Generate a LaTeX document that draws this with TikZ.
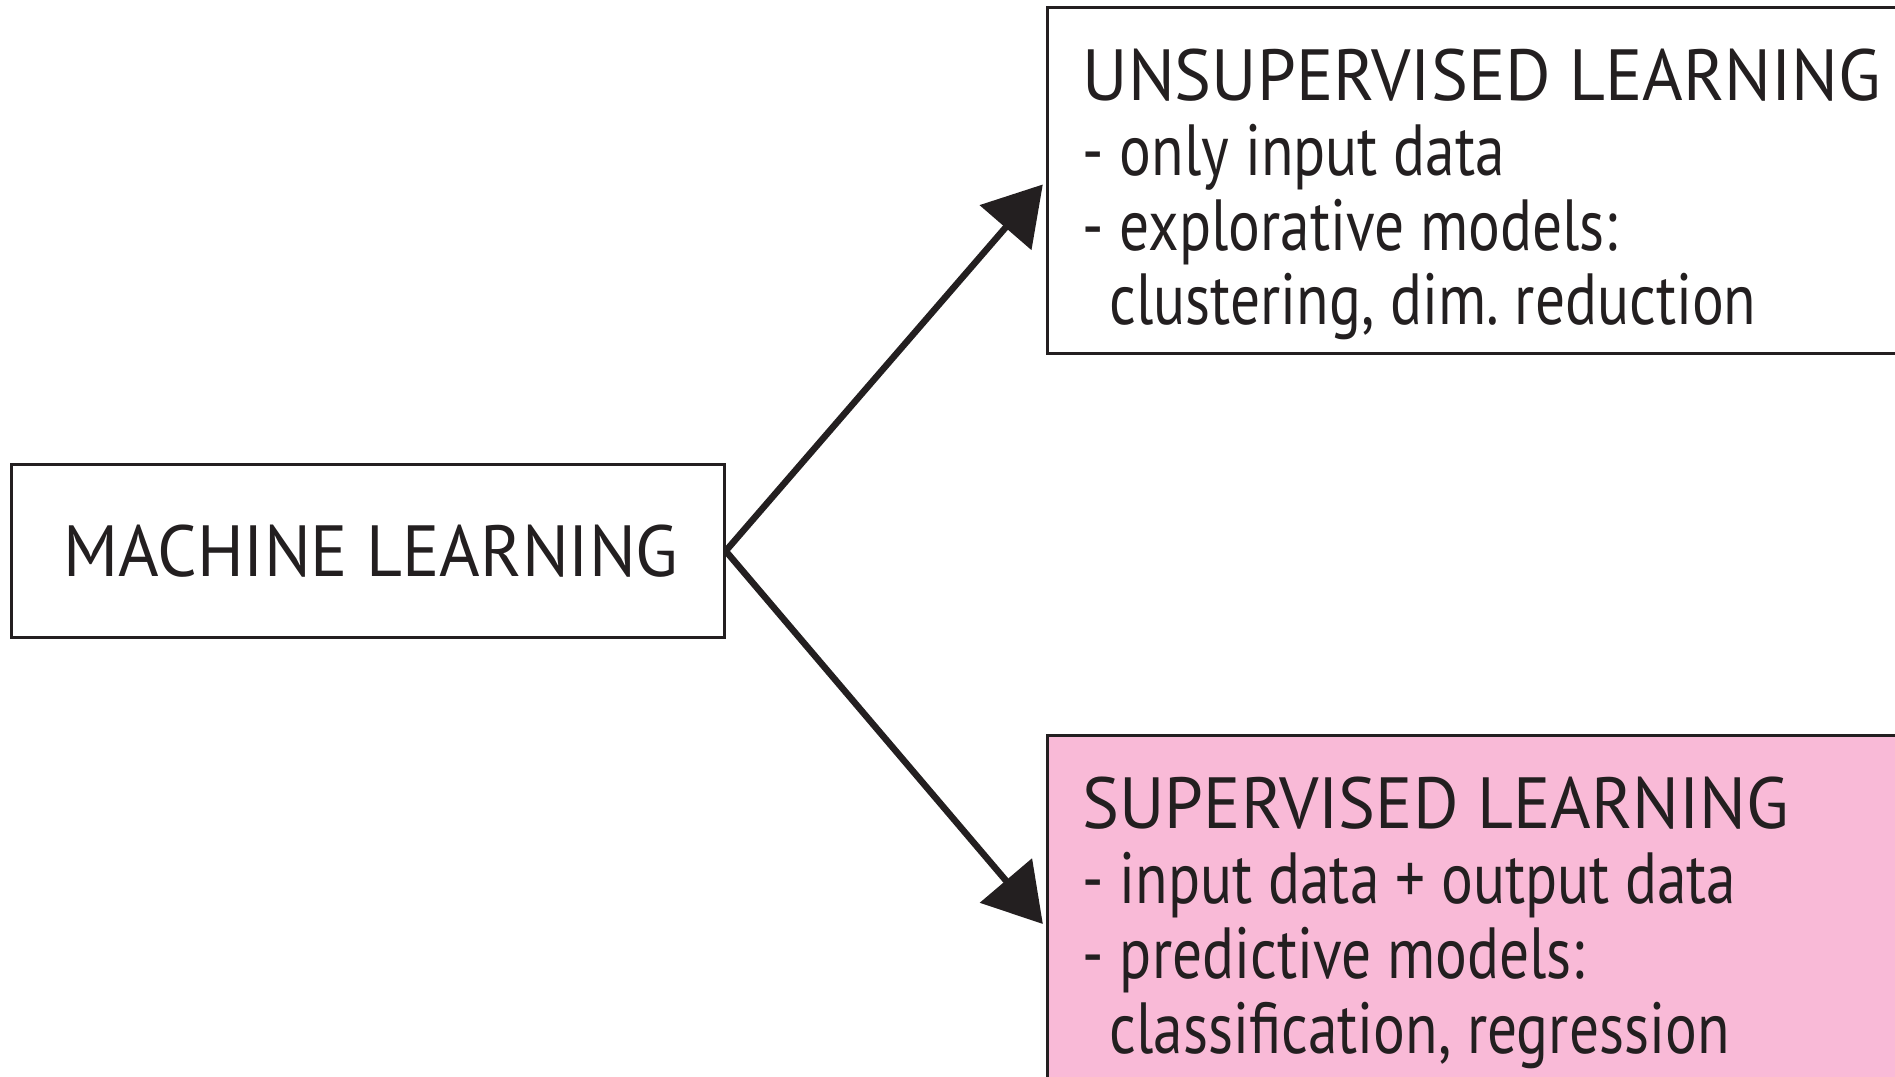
\documentclass[tikz,border=0pt]{standalone}
\usepackage{fontspec}
\setmainfont{PT Sans}
\newfontfamily\headfont[FakeStretch=0.96]{PT Sans}
\newfontfamily\bodyfont[FakeStretch=0.82]{PT Sans}
\usetikzlibrary{positioning, arrows.meta}
\frenchspacing

\definecolor{inkblack}{HTML}{231F20}
\definecolor{suppink}{HTML}{F9BAD7}

\begin{document}
\begin{tikzpicture}[x=0.01cm, y=-0.01cm,
    box/.style={draw=inkblack, line width=0.85pt, inner sep=0pt},
    txt/.style={text=inkblack, inner sep=0pt, align=left, font=\fontsize{20.6}{21.3}\selectfont\bodyfont},
    branch/.style={draw=inkblack, line width=1.85pt, -{Triangle[length=0.57cm, width=0.67cm]}, shorten >=1.5pt}]
    \useasboundingbox (0,0) rectangle (1895,1077);

    % boxes
    \node[box, minimum width=7.12cm, minimum height=1.72cm] (ml) at (368,551) {};
    \node[box, minimum width=9cm, minimum height=3.45cm] (unsup) at (1498,180.5) {};
    \node[box, fill=suppink, minimum width=9cm, minimum height=3.84cm] (sup) at (1498,928) {};

    % texts
    \node[txt] (mltext) at (371,551) {\headfont MACHINE LEARNING};
    \node[txt, anchor=north west] (unsuptext) at (1082,48) {{\headfont UNSUPERVISED LEARNING}\\
        - only input data\\
        - explorative models:\\
        \hspace*{0.27cm}clustering, dim. reduction};
    \node[txt, anchor=north west] (suptext) at (1082,776) {{\headfont SUPERVISED LEARNING}\\
        - input data + output data\\
        - predictive models:\\
        \hspace*{0.27cm}classification, regression};

    % arrows
    \draw[branch] (ml.east) -- (unsup.west);
    \draw[branch] (ml.east) -- (sup.west);
\end{tikzpicture}
\end{document}
